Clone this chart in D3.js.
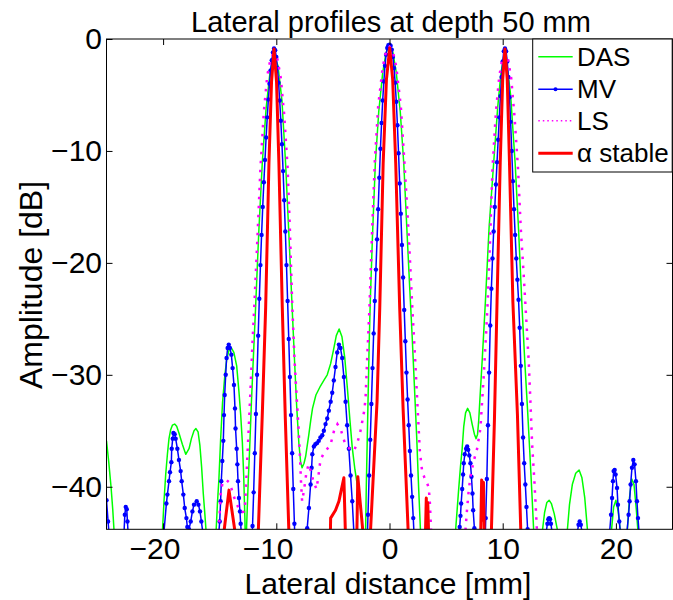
<!DOCTYPE html>
<html><head><meta charset="utf-8">
<script src="https://cdn.jsdelivr.net/npm/d3@7"></script>
<style>
body{margin:0;background:#fff}
svg text{font-family:"Liberation Sans",Arial,Helvetica,sans-serif;fill:#000}
</style></head>
<body><svg id="c" width="673" height="600"></svg>
<script>
// ---------- data (lateral position [mm], amplitude [dB]) ----------
const titleText = "Lateral profiles at depth 50 mm";
const xLabelText = "Lateral distance [mm]";
const yLabelText = "Amplitude [dB]";
const xTicks = [-20, -10, 0, 10, 20];
const yTicks = [0, -10, -20, -30, -40];
const seriesNames = ["DAS", "MV", "LS", "α stable"];

const dasPts = [
[-25,-35.9],[-24.8,-37.8],[-24.6,-40],[-24.45,-42],[-24.33,-44],[-24.2,-48],
[-20.2,-48],[-20.06,-44],[-19.92,-41.3],[-19.77,-38.9],[-19.62,-37.1],[-19.48,-35.7],[-19.33,-34.9],[-19.18,-34.5],[-18.98,-34.4],[-18.8,-34.6],[-18.6,-35.2],[-18.3,-36.2],[-18.0,-37.1],[-17.71,-36.6],[-17.5,-35.7],[-17.27,-35.0],[-17.1,-34.8],[-16.91,-35.1],[-16.75,-36.3],[-16.6,-38.2],[-16.45,-40.6],[-16.3,-42.6],[-16.2,-44],[-16.1,-48],
[-15.45,-48],[-15.32,-44],[-15.2,-41.5],[-15.07,-39.3],[-14.92,-35.8],[-14.75,-32.5],[-14.56,-30.2],[-14.38,-28.6],[-14.18,-27.8],[-13.97,-27.6],[-13.75,-28.0],[-13.5,-29.2],[-13.3,-31.5],[-13.15,-33.5],[-13.0,-36.0],[-12.88,-39.0],[-12.77,-43.0],[-12.71,-46.5],
[-12.62,-43.5],[-12.48,-39.5],[-12.35,-36.5],[-12.2,-32.5],[-12.05,-29],[-11.83,-24],[-11.55,-17.3],[-11.24,-11.1],[-10.9,-6.2],[-10.55,-2.9],[-10.2,-1.5],[-9.85,-2.4],[-9.5,-5.5],[-9.18,-11.1],[-8.9,-17.2],[-8.6,-24],[-8.4,-28.5],[-8.2,-32.8],[-8.0,-36.2],[-7.85,-37.8],[-7.72,-38.3],[-7.55,-37.9],[-7.41,-37.3],[-7.25,-36.2],[-7.12,-35.3],[-6.95,-34.0],[-6.8,-33.0],[-6.5,-31.8],[-6.1,-31.0],[-5.8,-30.5],[-5.5,-30.0],[-5.2,-29.0],[-4.95,-27.8],[-4.7,-26.5],[-4.45,-25.9],[-4.2,-26.6],[-3.95,-28.5],[-3.72,-31.2],[-3.5,-34.0],[-3.29,-36.5],[-3.05,-38.5],[-2.85,-39.8],[-2.65,-41.2],[-2.45,-42.8],[-2.3,-45],[-2.2,-46.5],
[-2.12,-44.5],[-2.05,-40],[-1.97,-36],[-1.88,-31.5],[-1.8,-27.5],[-1.7,-23.5],[-1.5,-17.5],[-1.25,-11.1],[-0.95,-6.5],[-0.6,-3.0],[-0.3,-1.2],[0,-0.5],[0.3,-1.2],[0.6,-3.0],[0.95,-6.5],[1.26,-11.1],[1.55,-17.3],[1.8,-22.5],[2.0,-26.5],[2.2,-31],[2.4,-35.5],[2.57,-40],[2.74,-44],[2.85,-48],
[5.7,-48],[5.83,-44],[5.98,-42],[6.12,-40.1],[6.27,-38.2],[6.42,-36.6],[6.56,-34.6],[6.72,-33.4],[6.9,-33.0],[7.1,-33.4],[7.3,-34.4],[7.5,-35.3],[7.65,-35.7],[7.78,-35.3],[7.88,-34.1],[7.98,-32.3],[8.2,-28.5],[8.47,-23.5],[8.8,-16.8],[9.2,-11.1],[9.55,-6.2],[9.85,-3.0],[10.1,-1.6],[10.35,-2.0],[10.7,-5.0],[11.1,-11.1],[11.4,-17.0],[11.71,-24],[11.95,-28.8],[12.2,-33.2],[12.4,-37.0],[12.6,-41.0],[12.74,-44],[12.85,-48],
[13.4,-48],[13.5,-44],[13.7,-42.3],[13.9,-41.4],[14.1,-41.2],[14.3,-41.5],[14.55,-42.4],[14.86,-44],[14.95,-48],
[15.6,-48],[15.7,-44],[15.9,-41.6],[16.15,-39.8],[16.45,-38.8],[16.75,-38.5],[17.0,-39.2],[17.25,-41.0],[17.5,-44],[17.6,-48],
[19.5,-48],[19.6,-44],[19.8,-41.8],[20.0,-41.2],[20.2,-42.2],[20.4,-44],[20.5,-48],
[20.9,-48],[21.0,-44],[21.2,-41.0],[21.4,-39.3],[21.6,-39.8],[21.8,-42.0],[21.95,-44],[22.05,-48]
];

const mvPts = [
[-25,-41.2],[-24.86,-43.1],[-24.75,-44.5],[-24.6,-47],
[-23.55,-47],[-23.45,-44],[-23.38,-42.5],[-23.3,-41.8],[-23.21,-42.0],[-23.15,-43.1],[-23.1,-44],[-23.0,-47],
[-20.0,-47],[-19.92,-44],[-19.71,-41.5],[-19.62,-40.7],[-19.48,-39.5],[-19.39,-38.7],[-19.27,-37.8],[-19.24,-36.6],[-19.15,-35.7],[-19.09,-35.2],[-18.98,-35.3],[-18.89,-35.7],[-18.74,-36.6],[-18.6,-37.6],[-18.45,-38.6],[-18.36,-39.5],[-18.21,-40.7],[-18.09,-41.9],[-17.94,-42.8],[-17.86,-43.6],[-17.71,-43.8],[-17.56,-43.1],[-17.41,-42.2],[-17.27,-41.6],[-17.03,-41.3],[-16.88,-41.6],[-16.74,-42.2],[-16.62,-43.1],[-16.5,-44],[-16.4,-47],
[-15.15,-47],[-15.07,-44],[-15.0,-43.1],[-14.92,-41.3],[-14.86,-39.5],[-14.77,-37.7],[-14.68,-35.9],[-14.62,-33.6],[-14.56,-31.8],[-14.47,-30.0],[-14.39,-28.5],[-14.3,-27.6],[-14.2,-27.3],[-14.1,-27.6],[-13.97,-28.2],[-13.86,-29.4],[-13.74,-30.9],[-13.65,-33.0],[-13.6,-34.8],[-13.5,-36.6],[-13.44,-38.0],[-13.38,-39.5],[-13.3,-41.0],[-13.21,-42.2],[-13.15,-43.3],[-13.1,-44],[-13.0,-47],
[-12.2,-47],[-12.1,-43.5],[-12.0,-40.5],[-11.9,-37],[-11.8,-33.5],[-11.7,-30],[-11.6,-26.5],[-11.5,-23.2],[-11.4,-20.2],[-11.3,-17.5],[-11.2,-15],[-11.1,-12.8],[-11.0,-10.8],[-10.9,-8.8],[-10.8,-7],[-10.7,-5.4],[-10.6,-4],[-10.5,-2.8],[-10.4,-1.9],[-10.3,-1.2],[-10.2,-0.85],[-10.1,-1.0],[-10.0,-1.6],[-9.9,-2.6],[-9.8,-3.9],[-9.7,-5.5],[-9.6,-7.3],[-9.5,-9.4],[-9.4,-11.8],[-9.3,-14.4],[-9.2,-17.2],[-9.1,-20.2],[-9.0,-23.4],[-8.9,-26.8],[-8.8,-30.2],[-8.7,-33.6],[-8.6,-37.0],[-8.5,-40.2],[-8.4,-43.3],[-8.3,-47],
[-7.35,-47],[-7.27,-43.7],[-7.12,-41.9],[-6.97,-39.8],[-6.88,-38.3],[-6.82,-37.1],[-6.68,-36.4],[-6.55,-36.2],[-6.4,-36.1],[-6.25,-35.9],[-6.1,-35.6],[-5.94,-35.4],[-5.8,-35.0],[-5.65,-34.4],[-5.5,-33.9],[-5.36,-33.2],[-5.2,-32.4],[-5.06,-31.6],[-4.92,-30.5],[-4.77,-29.3],[-4.62,-28.0],[-4.47,-27.3],[-4.33,-27.6],[-4.18,-28.5],[-4.03,-30.2],[-3.88,-32.4],[-3.74,-34.5],[-3.59,-36.6],[-3.44,-39.0],[-3.29,-41.3],[-3.15,-44],[-3.05,-47],
[-2.0,-46],[-1.9,-42.5],[-1.8,-39],[-1.7,-35.8],[-1.6,-32.6],[-1.5,-29.4],[-1.4,-26.3],[-1.3,-23.4],[-1.2,-20.6],[-1.1,-17.9],[-1.0,-15.2],[-0.9,-12.4],[-0.8,-9.8],[-0.7,-7.5],[-0.6,-5.5],[-0.5,-3.8],[-0.4,-2.4],[-0.3,-1.4],[-0.2,-0.8],[-0.1,-0.55],[0,-0.5],[0.1,-0.6],[0.2,-0.95],[0.3,-1.6],[0.4,-2.6],[0.5,-3.9],[0.6,-5.6],[0.7,-7.7],[0.8,-10.2],[0.9,-12.9],[1.0,-15.6],[1.1,-18.4],[1.2,-21.3],[1.3,-24.2],[1.4,-27],[1.5,-29.8],[1.6,-32.2],[1.7,-34.5],[1.8,-36.8],[1.9,-39],[2.0,-40.9],[2.1,-42.8],[2.2,-45],
[6.1,-47],[6.2,-43.6],[6.27,-42.6],[6.33,-41.5],[6.42,-40.2],[6.5,-38.9],[6.56,-37.9],[6.65,-37.1],[6.77,-36.6],[6.86,-36.4],[6.95,-36.7],[7.05,-37.2],[7.15,-37.9],[7.24,-39.1],[7.33,-40.6],[7.39,-42.1],[7.5,-43.7],[7.6,-47],
[8.4,-47],[8.5,-42.8],[8.6,-39.3],[8.7,-34.5],[8.8,-29.8],[8.9,-25.6],[9.0,-22.3],[9.1,-19.6],[9.2,-17.2],[9.3,-15.0],[9.4,-13.0],[9.5,-11.0],[9.6,-9.0],[9.7,-7.0],[9.8,-5.1],[9.9,-3.4],[10.0,-2.0],[10.1,-1.1],[10.2,-0.85],[10.3,-1.1],[10.4,-2.0],[10.5,-3.4],[10.6,-5.2],[10.7,-7.4],[10.8,-10.0],[10.9,-12.7],[11.0,-15.2],[11.1,-17.5],[11.2,-19.6],[11.3,-21.5],[11.4,-23.3],[11.5,-25.8],[11.6,-29.2],[11.7,-32.6],[11.8,-35.6],[11.9,-37.9],[12.0,-39.8],[12.1,-41.8],[12.2,-43.8],[12.3,-47],
[13.75,-47],[13.85,-44],[13.95,-43.3],[14.03,-42.9],[14.1,-42.8],[14.18,-42.9],[14.26,-43.3],[14.35,-44],[14.45,-47],
[16.5,-47],[16.6,-44],[16.7,-43.4],[16.8,-43.1],[16.9,-43.4],[17.0,-44],[17.1,-47],
[19.35,-47],[19.45,-44],[19.57,-42.5],[19.66,-41.0],[19.74,-39.5],[19.8,-38.6],[19.89,-38.5],[19.97,-38.9],[20.1,-40.1],[20.18,-41.6],[20.3,-43.1],[20.39,-44],[20.5,-47],
[20.9,-47],[20.98,-44],[21.12,-42.5],[21.21,-41.3],[21.3,-39.8],[21.42,-38.3],[21.54,-37.6],[21.65,-38.0],[21.77,-39.5],[21.86,-41.3],[21.95,-42.8],[22.04,-44],[22.15,-47]
];

const lsPts = [
[-15.2,-48],[-15.07,-44],[-14.98,-42],[-14.9,-40.4],[-14.75,-39.7],[-14.6,-39.5],[-14.4,-39.4],[-14.18,-39.6],[-13.95,-40.2],[-13.74,-40.9],[-13.5,-41.5],[-13.3,-42.0],[-13.05,-42.3],[-12.85,-42.2],[-12.75,-41.5],[-12.67,-39.8],[-12.58,-37.8],[-12.47,-35.5],[-12.3,-31.8],[-12.1,-27],[-11.95,-24],[-11.7,-18.5],[-11.4,-11.5],[-11.1,-6.5],[-10.8,-3.3],[-10.5,-1.7],[-10.2,-1.3],[-9.9,-1.8],[-9.6,-3.5],[-9.3,-6.8],[-9.0,-11.5],[-8.8,-17],[-8.6,-23.5],[-8.4,-28.5],[-8.2,-32],[-8.05,-34.5],[-7.92,-37],[-7.82,-39.5],[-7.72,-41.3],[-7.55,-40.3],[-7.35,-38.8],[-7.15,-38.0],[-6.95,-38.6],[-6.7,-39.6],[-6.45,-40.2],[-6.3,-39.2],[-6.1,-37.6],[-5.85,-37.1],[-5.65,-36.8],[-5.4,-36.5],[-5.2,-36.2],[-4.9,-35.0],[-4.6,-34.4],[-4.3,-34.9],[-3.94,-36.1],[-3.45,-36.7],[-3.15,-36.8],[-2.85,-36.1],[-2.6,-35.2],[-2.41,-34.2],[-2.25,-33.3],[-2.12,-32.2],[-1.95,-28],[-1.77,-24],[-1.55,-17.5],[-1.3,-11],[-1.0,-6],[-0.6,-2.5],[-0.3,-1.1],[0,-0.7],[0.3,-1.1],[0.6,-2.5],[1.0,-6],[1.35,-11.5],[1.7,-17.5],[2.0,-23.7],[2.26,-28.5],[2.5,-33.3],[2.68,-36.8],[2.88,-38.6],[3.09,-39.2],[3.33,-39.7],[3.47,-40.1],[3.56,-41.3],[3.68,-44],[3.78,-48],
[6.6,-48],[6.7,-44],[6.86,-41.9],[7.0,-40.3],[7.15,-39.1],[7.44,-37.7],[7.74,-36.6],[8.03,-34.8],[8.33,-30.0],[8.56,-25.8],[8.68,-23.4],[8.9,-17.5],[9.1,-11.5],[9.4,-6.5],[9.7,-3.3],[10.0,-1.6],[10.2,-1.3],[10.45,-1.7],[10.75,-3.5],[11.05,-7],[11.35,-11.5],[11.6,-17],[11.85,-21],[12.05,-24.5],[12.3,-28.8],[12.45,-32.4],[12.6,-36.2],[12.8,-39.5],[13.03,-44],[13.12,-48]
];

const alphaPts = [
[-14.75,-48],[-14.62,-44],[-14.18,-40.3],[-13.65,-44],[-13.55,-48],
[-11.7,-48],[-11.59,-44],[-11.22,-33],[-10.94,-24],[-10.65,-11.1],[-10.42,-3.8],[-10.2,-0.9],[-9.98,-3.8],[-9.77,-11.1],[-9.47,-24],[-9.2,-34],[-8.89,-44],[-8.8,-48],
[-5.28,-48],[-5.22,-44],[-5.2,-42.8],[-4.77,-42.1],[-4.47,-41.3],[-4.03,-39.2],[-3.9,-44],[-3.85,-48],
[-2.95,-48],[-2.88,-44],[-2.8,-39.1],[-2.35,-44],[-2.3,-48],
[-1.75,-48],[-1.68,-44],[-1.1,-32.4],[-0.86,-24],[-0.56,-11.1],[-0.27,-3.6],[0.02,-0.8],[0.28,-3.6],[0.55,-11.1],[0.9,-24],[1.2,-33],[1.65,-44],[1.72,-48],
[3.12,-48],[3.18,-44],[3.25,-41.0],[3.32,-44],[3.38,-41.4],[3.45,-44],[3.5,-48],
[8.0,-48],[8.06,-44],[8.14,-39.4],[8.22,-43],[8.3,-39.6],[8.37,-44],[8.42,-48],
[8.93,-48],[9.0,-44],[9.27,-34],[9.5,-23.5],[9.78,-11.1],[10.0,-3.6],[10.2,-0.9],[10.4,-3.6],[10.6,-11.1],[10.9,-23.5],[11.3,-33.5],[11.6,-44],[11.67,-48]
];

// ---------- layout ----------
const W = 673, H = 600;
const P = {l:106.5, r:672.5, t:39, b:529.3};
const svg = d3.select("#c");
svg.append("rect").attr("width", W).attr("height", H).attr("fill", "#fff");

const x = d3.scaleLinear().domain([-25, 25]).range([P.l, P.r]);
const y = d3.scaleLinear().domain([-43.8, 0]).range([P.b, P.t]);

svg.append("defs").append("clipPath").attr("id", "clip")
  .append("rect").attr("x", P.l).attr("y", P.t).attr("width", P.r - P.l).attr("height", P.b - P.t);

const g = svg.append("g").attr("clip-path", "url(#clip)");
const line = d3.line().x(d => x(d[0])).y(d => y(d[1]));

g.append("path").datum(dasPts).attr("d", line).attr("fill", "none")
  .attr("stroke", "#00ff00").attr("stroke-width", 1.5).attr("stroke-linejoin", "round");
g.append("path").datum(mvPts).attr("d", line).attr("fill", "none")
  .attr("stroke", "#0000ff").attr("stroke-width", 1.5).attr("stroke-linejoin", "round");
g.selectAll("circle.mv").data(mvPts).join("circle").attr("class", "mv")
  .attr("cx", d => x(d[0])).attr("cy", d => y(d[1])).attr("r", 2.2).attr("fill", "#0000ff");
g.append("path").datum(lsPts).attr("d", line).attr("fill", "none")
  .attr("stroke", "#ff00ff").attr("stroke-width", 2.5).attr("stroke-dasharray", "2.5,6.5");
g.append("path").datum(alphaPts).attr("d", line).attr("fill", "none")
  .attr("stroke", "#ff0000").attr("stroke-width", 3).attr("stroke-linejoin", "round");

// ---------- axes ----------
const fmt = d => d < 0 ? "\u2212" + Math.abs(d) : String(d);
const tickFont = 30;
const ax = svg.append("g").attr("transform", `translate(0,${P.b})`)
  .call(d3.axisBottom(x).tickValues(xTicks).tickSize(-6).tickPadding(8.5).tickFormat(fmt));
ax.selectAll("text").attr("font-size", tickFont).attr("dx", d => d < 0 ? -0.29 * tickFont : 0);
svg.append("g").attr("transform", `translate(0,${P.t})`)
  .call(d3.axisTop(x).tickValues(xTicks).tickSize(-6).tickFormat(""));
const ay = svg.append("g").attr("transform", `translate(${P.l},0)`)
  .call(d3.axisLeft(y).tickValues(yTicks).tickSize(-6).tickPadding(4.5).tickFormat(fmt));
ay.selectAll("text").attr("font-size", tickFont);
svg.append("g").attr("transform", `translate(${P.r},0)`)
  .call(d3.axisRight(y).tickValues(yTicks).tickSize(-6).tickFormat(""));
svg.selectAll(".domain").remove();
svg.selectAll(".tick line").attr("stroke", "#000");
svg.selectAll(".tick text").attr("fill", "#000").attr("font-family", '"Liberation Sans",Arial,sans-serif');
svg.append("rect").attr("x", P.l).attr("y", P.t).attr("width", P.r - P.l).attr("height", P.b - P.t)
  .attr("fill", "none").attr("stroke", "#000").attr("stroke-width", 1);

// ---------- labels ----------
svg.append("text").attr("x", 391).attr("y", 32).attr("text-anchor", "middle")
  .attr("font-size", 29).text(titleText);
svg.append("text").attr("x", 388).attr("y", 593.5).attr("text-anchor", "middle")
  .attr("font-size", 30).text(xLabelText);
svg.append("text").attr("transform", "translate(42,285) rotate(-90)").attr("text-anchor", "middle")
  .attr("font-size", 32).text(yLabelText);

// ---------- legend ----------
const L = {x: 532.7, y: P.t, w: 672.2 - 532.7, h: 133};
const lg = svg.append("g");
lg.append("rect").attr("x", L.x).attr("y", L.y).attr("width", L.w).attr("height", L.h)
  .attr("fill", "#fff").attr("stroke", "#000").attr("stroke-width", 1);
const rowY = [56.7, 89.3, 120.7, 153.3];
const styles = [
  {c: "#00ff00", w: 1.5, dash: null, marker: false},
  {c: "#0000ff", w: 1.5, dash: null, marker: true},
  {c: "#ff00ff", w: 1.5, dash: "1.5,3", marker: false},
  {c: "#ff0000", w: 3, dash: null, marker: false}
];
seriesNames.forEach((name, i) => {
  const s = styles[i];
  const ln = lg.append("line").attr("x1", 538.3).attr("x2", 572.7).attr("y1", rowY[i]).attr("y2", rowY[i])
    .attr("stroke", s.c).attr("stroke-width", s.w);
  if (s.dash) ln.attr("stroke-dasharray", s.dash);
  if (s.marker) lg.append("circle").attr("cx", 555.5).attr("cy", rowY[i]).attr("r", 2).attr("fill", s.c);
  lg.append("text").attr("x", 577).attr("y", rowY[i]).attr("dy", "0.35em").attr("font-size", 26).text(name);
});
</script></body></html>
